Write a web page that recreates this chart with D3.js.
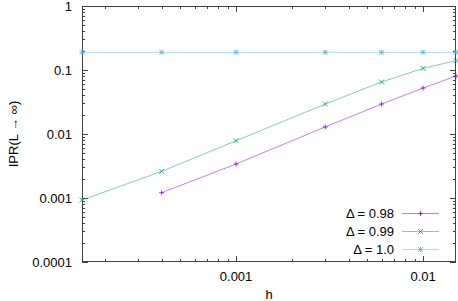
<!DOCTYPE html>
<html>
<head>
<meta charset="utf-8">
<script src="https://cdn.jsdelivr.net/npm/d3@7"></script>
<style>
  html, body { margin: 0; padding: 0; background: #fff; }
  svg text { font-family: "Liberation Sans", Arial, sans-serif; font-size: 13px; fill: #000; }
</style>
</head>
<body>
<svg id="chart" width="458" height="301"></svg>
<script>
// data
const hValues = [0.00015, 0.0004, 0.001, 0.003, 0.006, 0.01, 0.015];
const ipr098 = [null, 0.00121, 0.0034, 0.0129, 0.0294, 0.0523, 0.0806];
const ipr099 = [0.00093, 0.00261, 0.00785, 0.0294, 0.065, 0.106, 0.14];
const ipr100 = [0.189, 0.189, 0.189, 0.189, 0.189, 0.189, 0.189];
const seriesNames = ['\u0394 = 0.98', '\u0394 = 0.99', '\u0394 = 1.0'];
const xTickValues = [0.001, 0.01];
const xTickLabels = ['0.001', '0.01'];
const yTickValues = [1, 0.1, 0.01, 0.001, 0.0001];
const yTickLabels = ['1', '0.1', '0.01', '0.001', '0.0001'];
const xDomain = [0.00015, 0.015];
const yDomain = [0.0001, 1];

const svg = d3.select('#chart');
const plotLeft = 82, plotRight = 456, plotTop = 6, plotBottom = 262;

const x = d3.scaleLog().domain(xDomain).range([plotLeft, plotRight]);
const y = d3.scaleLog().domain(yDomain).range([plotBottom, plotTop]);

const series = [
    { name: seriesNames[0], values: ipr098, color: '#9400d3', marker: 'plus' },
    { name: seriesNames[1], values: ipr099, color: '#009e73', marker: 'cross' },
    { name: seriesNames[2], values: ipr100, color: '#56b4e9', marker: 'star' },
];

function markerPath(type, cx, cy) {
    const s = 2.5;
    const plus = `M${cx - s},${cy}H${cx + s}M${cx},${cy - s}V${cy + s}`;
    const cross = `M${cx - s},${cy - s}L${cx + s},${cy + s}M${cx - s},${cy + s}L${cx + s},${cy - s}`;
    if (type === 'plus') return plus;
    if (type === 'cross') return cross;
    return plus + cross;
}

// minor / major ticks (inward, mirrored)
const axisColor = '#404040';
const ticks = svg.append('g').attr('stroke', axisColor).attr('stroke-width', 1);

const xMinor = [];
for (let e = -5; e <= -1; e++) {
    for (let m = 1; m <= 9; m++) {
        const v = m * Math.pow(10, e);
        if (v >= xDomain[0] && v <= xDomain[1]) xMinor.push({ v, major: m === 1 });
    }
}
xMinor.forEach(t => {
    const px = Math.round(x(t.v)) + 0.5;
    const len = t.major ? 6 : 3;
    ticks.append('line').attr('x1', px).attr('x2', px).attr('y1', plotBottom).attr('y2', plotBottom - len);
    ticks.append('line').attr('x1', px).attr('x2', px).attr('y1', plotTop).attr('y2', plotTop + len);
});

const yMinor = [];
for (let e = -4; e <= 0; e++) {
    for (let m = 1; m <= 9; m++) {
        const v = m * Math.pow(10, e);
        if (v >= yDomain[0] && v <= yDomain[1] * 1.0001) yMinor.push({ v, major: m === 1 });
    }
}
yMinor.forEach(t => {
    const py = Math.round(y(t.v)) + 0.5;
    const len = t.major ? 6 : 3;
    ticks.append('line').attr('y1', py).attr('y2', py).attr('x1', plotLeft).attr('x2', plotLeft + len);
    ticks.append('line').attr('y1', py).attr('y2', py).attr('x1', plotRight).attr('x2', plotRight - len);
});

// border box
svg.append('rect')
    .attr('x', plotLeft + 0.5).attr('y', plotTop + 0.5)
    .attr('width', plotRight - plotLeft - 1).attr('height', plotBottom - plotTop - 1)
    .attr('fill', 'none').attr('stroke', axisColor).attr('stroke-width', 1);

// tick labels
svg.append('g').selectAll('text').data(yTickValues).join('text')
    .attr('x', 72).attr('y', d => y(d))
    .attr('text-anchor', 'end').attr('dominant-baseline', 'central')
    .text((d, i) => yTickLabels[i]);

svg.append('g').selectAll('text').data(xTickValues).join('text')
    .attr('x', d => x(d)).attr('y', 276)
    .attr('text-anchor', 'middle').attr('dominant-baseline', 'central')
    .text((d, i) => xTickLabels[i]);

// axis titles
svg.append('text').attr('x', (plotLeft + plotRight) / 2).attr('y', 294)
    .attr('text-anchor', 'middle').attr('dominant-baseline', 'central').text('h');
svg.append('text')
    .attr('transform', `translate(13,${(plotTop + plotBottom) / 2}) rotate(-90)`)
    .attr('text-anchor', 'middle').attr('dominant-baseline', 'central')
    .text('IPR(L \u2192 \u221e)');

// series
const line = d3.line()
    .defined(d => d[1] != null)
    .x(d => x(d[0])).y(d => y(d[1]));

series.forEach(s => {
    const pts = hValues.map((h, i) => [h, s.values[i]]);
    const g = svg.append('g');
    g.append('path').attr('d', line(pts))
        .attr('fill', 'none').attr('stroke', s.color).attr('stroke-width', 1).attr('stroke-opacity', 0.5);
    pts.filter(p => p[1] != null).forEach(p => {
        g.append('path').attr('d', markerPath(s.marker, x(p[0]), y(p[1])))
            .attr('fill', 'none').attr('stroke', s.color).attr('stroke-width', 1).attr('stroke-opacity', 0.8);
    });
});

// legend
const legendY = [213, 231, 249];
series.forEach((s, i) => {
    const ly = legendY[i];
    svg.append('text').attr('x', 394).attr('y', ly)
        .attr('text-anchor', 'end').attr('dominant-baseline', 'central').text(s.name);
    svg.append('line').attr('x1', 402).attr('x2', 439).attr('y1', ly + 0.5).attr('y2', ly + 0.5)
        .attr('stroke', s.color).attr('stroke-width', 1).attr('stroke-opacity', 0.5);
    svg.append('path').attr('d', markerPath(s.marker, 420.5, ly + 0.5))
        .attr('fill', 'none').attr('stroke', s.color).attr('stroke-width', 1).attr('stroke-opacity', 0.8);
});
</script>
</body>
</html>
